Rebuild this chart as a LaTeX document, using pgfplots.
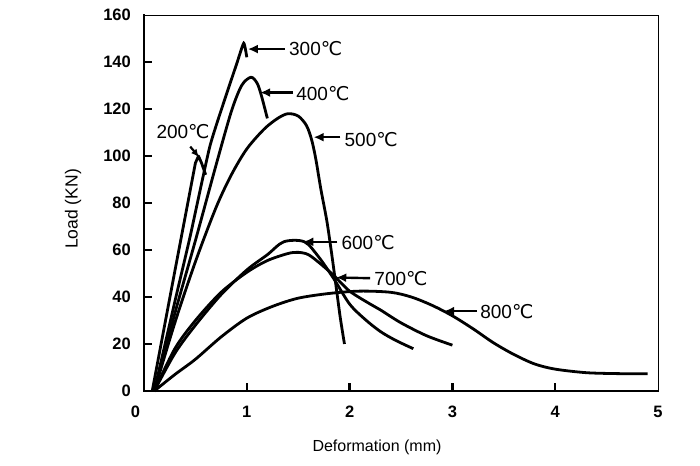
\documentclass[border=0pt]{standalone}
\usepackage{pgfplots}
\pgfplotsset{compat=1.18}
\usepackage{fontspec}
\setmainfont{Liberation Sans}
\newfontfamily\djv{DejaVu Sans}
\usetikzlibrary{arrows.meta}
\newcommand{\dc}{{\djv ℃}}
\begin{document}
\begin{tikzpicture}
\begin{axis}[
  width=514pt, height=376pt, scale only axis,
  xmin=0, xmax=5, ymin=0, ymax=160,
  axis line style={line width=0.9pt, black},
  xtick={1,2,3,4}, ytick={20,40,...,140},
  extra x ticks={0,5}, extra y ticks={0,160},
  extra x tick labels={\makebox[0pt][r]{0\hspace{4pt}},5},
  extra x tick style={major tick length=0pt},
  extra y tick style={major tick length=0pt},
  tick align=inside, xtick pos=bottom, ytick pos=left,
  major tick length=8pt,
  tick style={line width=2.5pt, black},
  /pgf/number format/assume math mode=true,
  ticklabel style={font=\fontsize{16.5}{19}\selectfont\bfseries, inner sep=0pt},
  yticklabel style={anchor=east, xshift=-13pt},
  xticklabel style={anchor=north, yshift=-15pt},
  xlabel={Deformation (mm)},
  ylabel={Load (KN)},
  xlabel style={font=\fontsize{16}{19}\selectfont, at={(axis description cs:0.4533,0)}, anchor=center, yshift=-56pt},
  ylabel style={font=\fontsize{17.5}{20}\selectfont, at={(axis description cs:0,0.484)}, anchor=center, rotate=0, yshift=71pt},
  clip=false,
]
\draw[line width=2.8pt, line cap=rect] (rel axis cs:0,1) -- (rel axis cs:0,0) -- (rel axis cs:1,0);

% 200 C
\addplot[black, line width=2.8pt, line join=round] coordinates {
(0.08,0) (0.3,51) (0.5,97) (0.53,100) (0.56,97) (0.6,92)};
% 300 C
\addplot[black, line width=2.8pt, smooth, tension=0.3] coordinates {
(0.1,0) (0.3,38) (0.45,66) (0.64,104) (0.8,126) (0.9,139) (0.97,148) (1.0,142)};
% 400 C
\addplot[black, line width=2.8pt, smooth, tension=0.5] coordinates {
(0.1,0) (0.3,33) (0.5,64) (0.7,96) (0.85,119) (0.95,130) (1.04,133.5) (1.1,131) (1.14,126) (1.2,116)};
% 500 C
\addplot[black, line width=2.8pt, smooth, tension=0.5] coordinates {
(0.1,0) (0.3,29) (0.5,55) (0.7,78) (0.85,92) (1.0,103) (1.17,111.5) (1.3,116) (1.4,118) (1.5,117) (1.58,113) (1.63,107) (1.67,99) (1.72,86) (1.78,72) (1.83,57) (1.87,44) (1.91,31) (1.95,20)};
% 600 C
\addplot[black, line width=2.8pt, smooth, tension=0.5] coordinates {
(0.1,0) (0.3,16) (0.5,28) (0.75,41) (1.0,51.5) (1.2,58) (1.36,63.5) (1.56,63.5) (1.7,57) (1.85,47.5) (2.0,37) (2.15,30.5) (2.3,25.3) (2.45,21.5) (2.62,18)};
% 700 C
\addplot[black, line width=2.8pt, smooth, tension=0.5] coordinates {
(0.1,0) (0.3,18) (0.5,30) (0.75,42) (1.0,50.5) (1.2,55.5) (1.4,58.5) (1.5,59) (1.6,58) (1.72,54) (1.85,49) (2.0,42.5) (2.2,37) (2.3,34.5) (2.5,29) (2.75,23.5) (3.0,19.5)};
% 800 C
\addplot[black, line width=2.8pt, smooth, tension=0.5] coordinates {
(0.1,0) (0.3,7) (0.5,13.5) (0.75,23) (1.0,31) (1.25,36) (1.5,39.5) (1.8,41.5) (2.1,42.5) (2.4,42) (2.6,40) (2.8,36.5) (3.0,32) (3.2,26.5) (3.4,20.5) (3.6,15.5) (3.8,11.5) (4.0,9.3) (4.3,7.8) (4.6,7.4) (4.9,7.3)};

% labels
\tikzset{lab/.style={anchor=west, inner sep=0pt, font=\fontsize{19}{22}\selectfont},
         arr/.style={line width=2.4pt, -{Latex[length=10pt,width=9pt]}}}
\draw[arr] (axis cs:1.37,145.5) -- (axis cs:1.01,145.5);
\node[lab] at (axis cs:1.41,145.5) {300\dc};
\draw[arr] (axis cs:1.45,127) -- (axis cs:1.13,127);
\node[lab] at (axis cs:1.48,126.5) {400\dc};
\draw[arr] (axis cs:1.91,108) -- (axis cs:1.65,108);
\node[lab] at (axis cs:1.95,107) {500\dc};
\draw[arr] (axis cs:1.88,63.5) -- (axis cs:1.55,63.5);
\node[lab] at (axis cs:1.92,63) {600\dc};
\draw[arr] (axis cs:2.2,48) -- (axis cs:1.87,48.3);
\node[lab] at (axis cs:2.24,48) {700\dc};
\draw[arr] (axis cs:3.24,34) -- (axis cs:2.92,34);
\node[lab] at (axis cs:3.27,34) {800\dc};
\draw[line width=2.2pt, -{Latex[length=8pt,width=7pt]}] (axis cs:0.45,104) -- (axis cs:0.535,99.5);
\node[anchor=center, inner sep=0pt, font=\fontsize{19}{22}\selectfont] at (axis cs:0.38,110.5) {200\dc};
\end{axis}
\path ([shift={(-144pt,-74pt)}]current axis.south west) rectangle ([shift={(42pt,15pt)}]current axis.north east);
\end{tikzpicture}
\end{document}
